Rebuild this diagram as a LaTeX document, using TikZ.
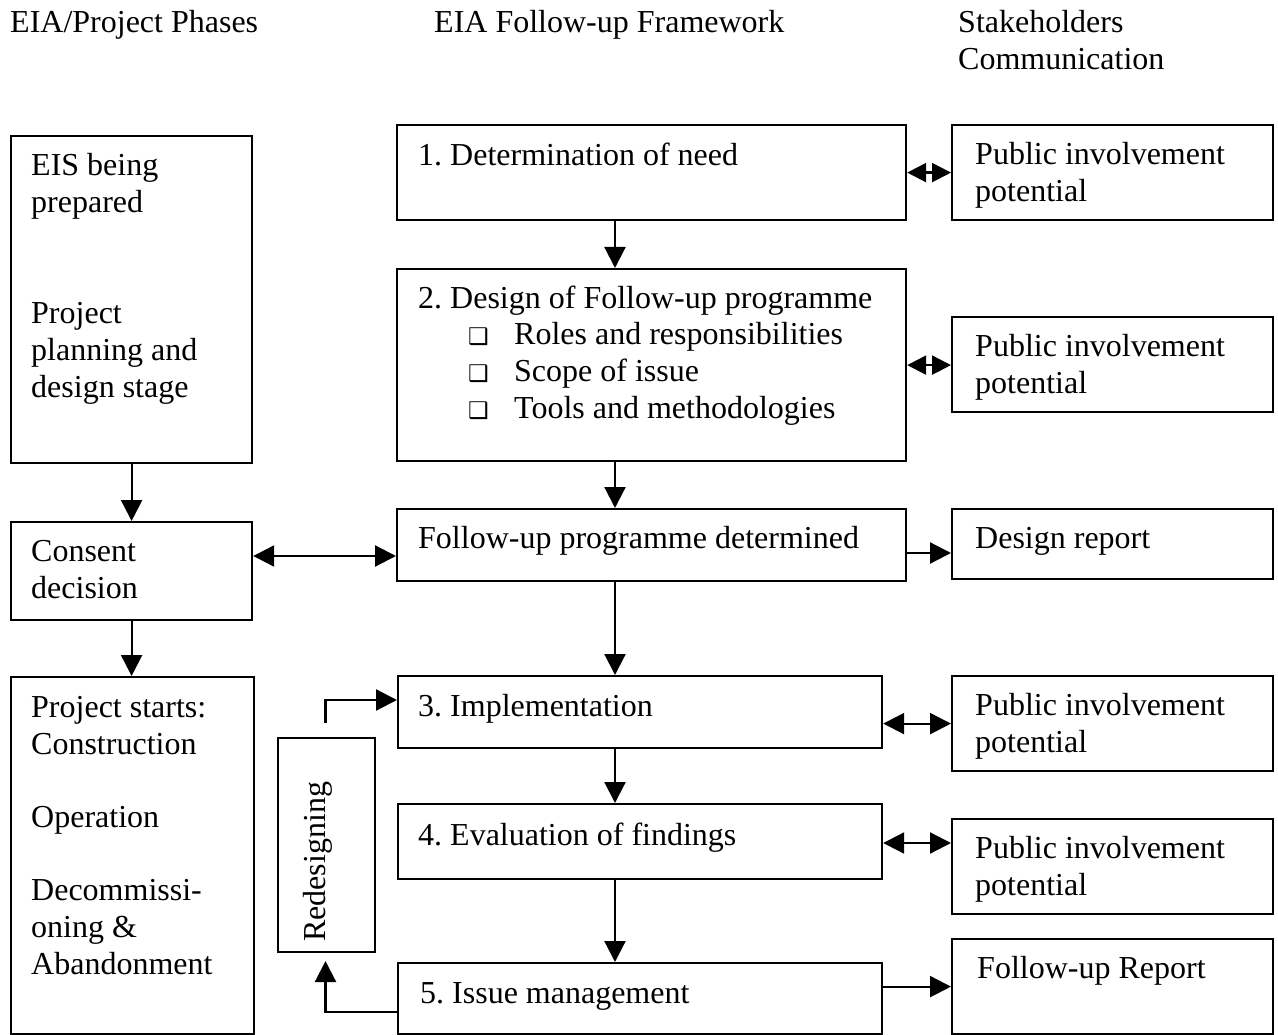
\documentclass[tikz,border=0pt]{standalone}
\usepackage{fontspec}
\setmainfont{Liberation Serif}
\newfontfamily\symfont{DejaVu Sans}
\usetikzlibrary{arrows.meta}
\frenchspacing
\newcommand{\bulitem}[1]{\makebox[46pt][l]{\symfont\fontsize{23}{37}\selectfont ❑}#1}

\begin{document}
\begin{tikzpicture}[x=1pt,y=-1pt,
  every node/.style={font=\fontsize{32}{37}\selectfont},
  box/.style={draw, line width=2.2pt, anchor=north west, inner sep=0pt},
  txt/.style={anchor=north west, inner sep=0pt, align=left},
  one/.style={anchor=mid west, inner sep=0pt},
  arr/.style={line width=2.2pt, -{Triangle[length=21pt,width=21pt]}},
  darr/.style={line width=2.2pt, {Triangle[length=21pt,width=21pt]}-{Triangle[length=21pt,width=21pt]}},
  sdarr/.style={line width=2.2pt, {Triangle[length=19pt,width=19pt]}-{Triangle[length=19pt,width=19pt]}}]

\useasboundingbox (0,0) rectangle (1278,1035);

% column headings
\node[one] (h1) at (10,30) {EIA/Project Phases};
\node[one] (h2) at (434,30) {EIA Follow-up Framework};
\node[txt] (h3) at (958,10) {Stakeholders\\Communication};

% project phases
\node[box, minimum width=241pt, minimum height=327pt] (a) at (10,135) {};
\node[box, minimum width=241pt, minimum height=98pt] (b) at (10,521) {};
\node[box, minimum width=243pt, minimum height=357pt] (c) at (10,676) {};
\node[txt] (at) at (31,153) {EIS being\\prepared\\[74pt]Project\\planning and\\design stage};
\node[txt] (bt) at (31,540) {Consent\\decision};
\node[txt] (ct) at (31,696) {Project starts:\\Construction\\[36pt]Operation\\[36pt]Decommissi-\\oning \&\\Abandonment};

% follow-up framework
\node[box, minimum width=509pt, minimum height=95pt] (m1) at (396,124) {};
\node[box, minimum width=509pt, minimum height=192pt] (m2) at (396,268) {};
\node[box, minimum width=509pt, minimum height=72pt] (m3) at (396,508) {};
\node[box, minimum width=484pt, minimum height=72pt] (m4) at (397,675) {};
\node[box, minimum width=484pt, minimum height=75pt] (m5) at (397,803) {};
\node[box, minimum width=484pt, minimum height=71pt] (m6) at (397,962) {};
\node[one] (m1t) at (418,163) {1. Determination of need};
\node[one] (m2t) at (418,306) {2. Design of Follow-up programme};
\node[txt] (m2l) at (468,322) {\bulitem{Roles and responsibilities}\\\bulitem{Scope of issue}\\\bulitem{Tools and methodologies}};
\node[one] (m3t) at (418,546) {Follow-up programme determined};
\node[one] (m4t) at (418,714) {3. Implementation};
\node[one] (m5t) at (418,843) {4. Evaluation of findings};
\node[one] (m6t) at (420,1001) {5. Issue management};

% redesign loop
\node[box, minimum width=97pt, minimum height=214pt] (rd) at (277,737) {};
\node[rotate=90, inner sep=0pt] (rdt) at (318,862) {Redesigning};

% stakeholder communication
\node[box, minimum width=321pt, minimum height=95pt] (r1) at (951,124) {};
\node[box, minimum width=321pt, minimum height=95pt] (r2) at (951,316) {};
\node[box, minimum width=321pt, minimum height=70pt] (r3) at (951,508) {};
\node[box, minimum width=321pt, minimum height=95pt] (r4) at (951,675) {};
\node[box, minimum width=321pt, minimum height=95pt] (r5) at (951,818) {};
\node[box, minimum width=321pt, minimum height=95pt] (r6) at (951,938) {};
\node[txt] (r1t) at (975,142) {Public involvement\\potential};
\node[txt] (r2t) at (975,334) {Public involvement\\potential};
\node[one] (r3t) at (975,546) {Design report};
\node[txt] (r4t) at (975,693) {Public involvement\\potential};
\node[txt] (r5t) at (975,836) {Public involvement\\potential};
\node[one] (r6t) at (977,976) {Follow-up Report};

% reference points for connectors
\coordinate (colx) at (615,0);
\coordinate (ybm) at (0,556);
\coordinate (y3) at (0,553);
\coordinate (y5) at (0,843);
\coordinate (yloop) at (0,1012);
\coordinate (yimp) at (0,700);
\coordinate (rdin) at (325.5,961);
\coordinate (rdout) at (325.5,723);

% connectors, left column
\draw[arr] (a.south) -- (a.south |- b.north);
\draw[arr] (b.south) -- (b.south |- c.north);
\draw[darr] (b.east |- ybm) -- (m3.west |- ybm);

% connectors, middle column
\draw[arr] (m1.south -| colx) -- (m2.north -| colx);
\draw[arr] (m2.south -| colx) -- (m3.north -| colx);
\draw[arr] (m3.south -| colx) -- (m4.north -| colx);
\draw[arr] (m4.south -| colx) -- (m5.north -| colx);
\draw[arr] (m5.south -| colx) -- (m6.north -| colx);

% redesign feedback
\draw[arr] (m6.west |- yloop) -| (rdin);
\draw[arr] (rdout) |- (m4.west |- yimp);

% connectors, right column
\draw[sdarr] (m1.east) -- (r1.west);
\draw[sdarr] (m2.east) -- (m2.east -| r2.west);
\draw[arr] (m3.east |- y3) -- (r3.west |- y3);
\draw[darr] (m4.east |- r4.west) -- (r4.west);
\draw[darr] (m5.east |- y5) -- (r5.west |- y5);
\draw[arr] (m6.east |- r6.west) -- (r6.west);
\end{tikzpicture}
\end{document}
